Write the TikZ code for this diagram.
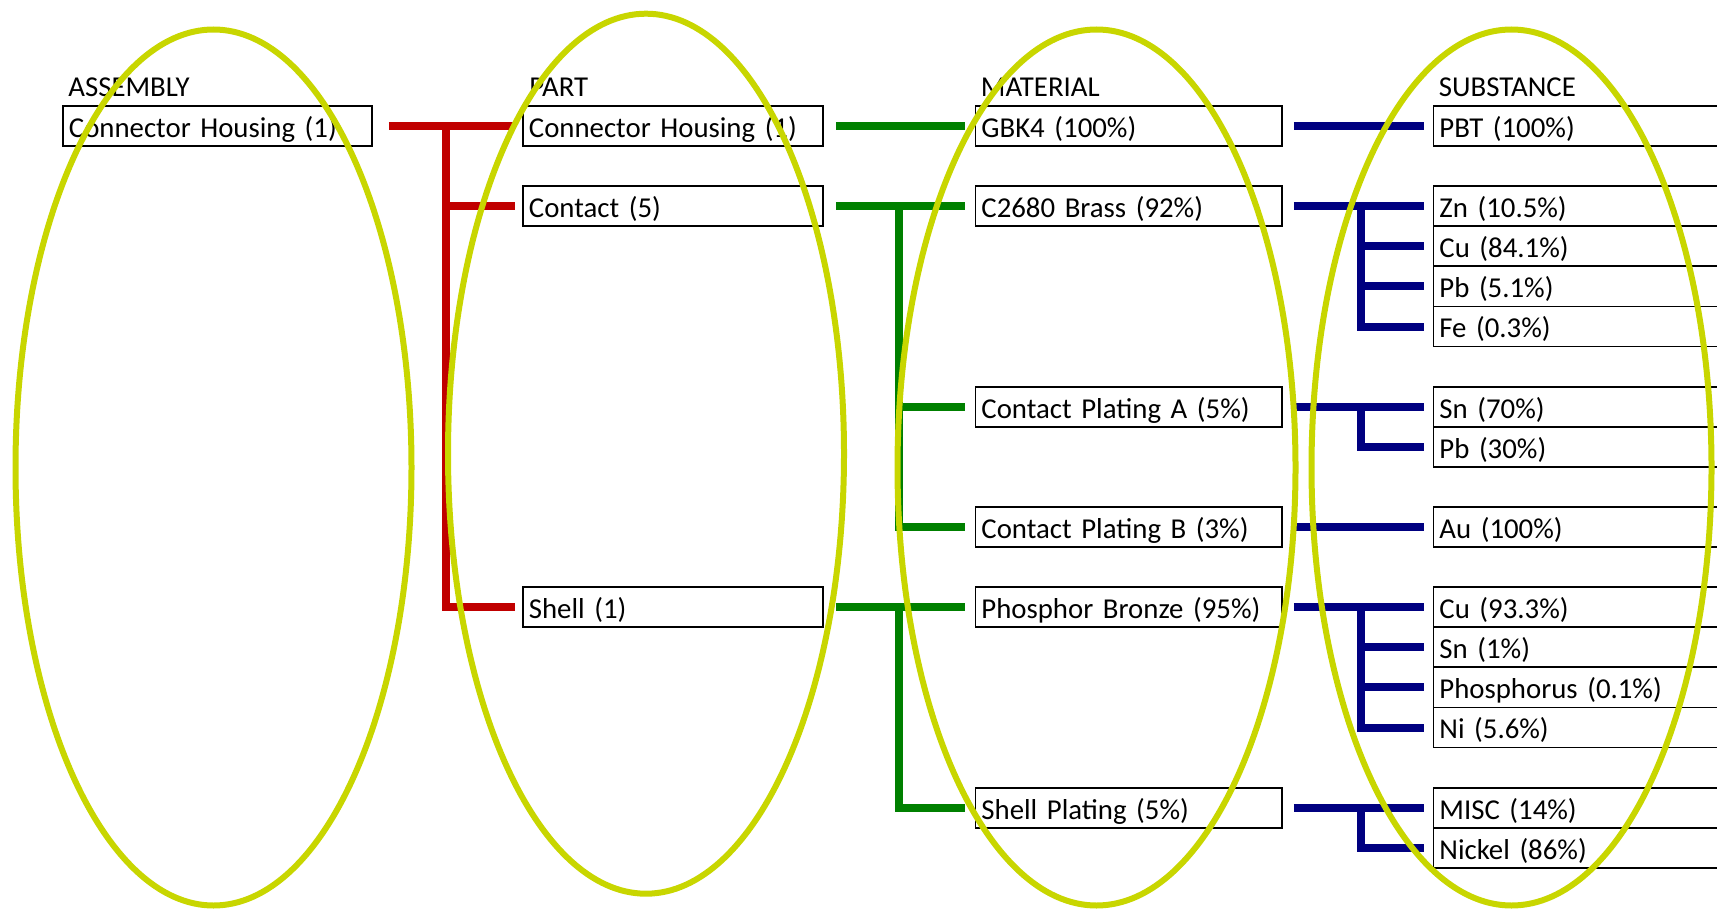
\documentclass[tikz,border=0pt]{standalone}
\usepackage{fontspec}
\setmainfont{Carlito}
\definecolor{myred}{RGB}{192,0,0}
\definecolor{mygreen}{RGB}{0,128,0}
\definecolor{myblue}{RGB}{0,0,128}
\definecolor{myyellow}{RGB}{200,214,0}

\begin{document}
\begin{tikzpicture}[x=0.5pt, y=-0.5pt, font=\fontsize{14.4}{17}\selectfont,
    box/.style={draw, line width=0.9pt, anchor=west, minimum height=20pt, inner xsep=3pt, inner ysep=0pt, text height=13pt, text depth=1.7pt, text width=#1, align=left},
    head/.style={anchor=base west, inner sep=0pt},
    redbar/.style={draw=myred, line width=4pt},
    grnbar/.style={draw=mygreen, line width=4pt},
    blubar/.style={draw=myblue, line width=4pt},
    ring/.style={draw=myyellow, line width=3pt}]

        \useasboundingbox (0,0) rectangle (1717,909);
        \clip (0,0) rectangle (1717,909);

        \node[head] (hA) at (68,97) {ASSEMBLY};
        \node[head] (hP) at (529,97) {PART};
        \node[head] (hM) at (980.5,97) {MATERIAL};
        \node[head] (hS) at (1438.5,97) {SUBSTANCE};

        \node[box=148.5pt] (A) at (62,126) {Connector Housing (1)};

        \node[box=144pt] (P1) at (522,126) {Connector Housing (1)};
        \node[box=144pt] (P2) at (522,206.2) {Contact (5)};
        \node[box=144pt] (P3) at (522,607.2) {Shell (1)};

        \node[box=147.25pt] (M1) at (974.5,126) {GBK4 (100\%)};
        \node[box=147.25pt] (M2) at (974.5,206.2) {C2680 Brass (92\%)};
        \node[box=147.25pt] (M3) at (974.5,406.7) {Contact Plating A (5\%)};
        \node[box=147.25pt] (M4) at (974.5,527) {Contact Plating B (3\%)};
        \node[box=147.25pt] (M5) at (974.5,607.2) {Phosphor Bronze (95\%)};
        \node[box=147.25pt] (M6) at (974.5,807.7) {Shell Plating (5\%)};

        \node[box=170pt] (S1) at (1432.5,126) {PBT (100\%)};
        \node[box=170pt] (S2) at (1432.5,206.2) {Zn (10.5\%)};
        \node[box=170pt] (S3) at (1432.5,246.3) {Cu (84.1\%)};
        \node[box=170pt] (S4) at (1432.5,286.4) {Pb (5.1\%)};
        \node[box=170pt] (S5) at (1432.5,326.5) {Fe (0.3\%)};
        \node[box=170pt] (S6) at (1432.5,406.7) {Sn (70\%)};
        \node[box=170pt] (S7) at (1432.5,446.8) {Pb (30\%)};
        \node[box=170pt] (S8) at (1432.5,527) {Au (100\%)};
        \node[box=170pt] (S9) at (1432.5,607.2) {Cu (93.3\%)};
        \node[box=170pt] (S10) at (1432.5,647.3) {Sn (1\%)};
        \node[box=170pt] (S11) at (1432.5,687.4) {Phosphorus (0.1\%)};
        \node[box=170pt] (S12) at (1432.5,727.5) {Ni (5.6\%)};
        \node[box=170pt] (S13) at (1432.5,807.7) {MISC (14\%)};
        \node[box=170pt] (S14) at (1432.5,847.8) {Nickel (86\%)};

        % assembly -> parts
        \draw[redbar] ([xshift=8pt]A.east) -- ([xshift=-3.5pt]P1.west);
        \draw[redbar] ([xshift=-38pt]P1.west) |- ([xshift=-3.5pt]P3.west);
        \draw[redbar] ([xshift=-38pt]P2.west) -- ([xshift=-3.5pt]P2.west);

        % parts -> materials
        \draw[grnbar] ([xshift=6pt]P1.east) -- ([xshift=-5pt]M1.west);
        \draw[grnbar] ([xshift=6pt]P2.east) -- ([xshift=-5pt]M2.west);
        \draw[grnbar] ([xshift=-38pt]M2.west) |- ([xshift=-5pt]M4.west);
        \draw[grnbar] ([xshift=-38pt]M3.west) -- ([xshift=-5pt]M3.west);
        \draw[grnbar] ([xshift=6pt]P3.east) -- ([xshift=-5pt]M5.west);
        \draw[grnbar] ([xshift=-38pt]M5.west) |- ([xshift=-5pt]M6.west);

        % materials -> substances
        \draw[blubar] ([xshift=5.5pt]M1.east) -- ([xshift=-4.5pt]S1.west);
        \draw[blubar] ([xshift=5.5pt]M2.east) -- ([xshift=-4.5pt]S2.west);
        \draw[blubar] ([xshift=-36pt]S2.west) |- ([xshift=-4.5pt]S5.west);
        \foreach \s in {S3,S4}
            \draw[blubar] ([xshift=-36pt]\s.west) -- ([xshift=-4.5pt]\s.west);
        \draw[blubar] ([xshift=5.5pt]M3.east) -- ([xshift=-4.5pt]S6.west);
        \draw[blubar] ([xshift=-36pt]S6.west) |- ([xshift=-4.5pt]S7.west);
        \draw[blubar] ([xshift=5.5pt]M4.east) -- ([xshift=-4.5pt]S8.west);
        \draw[blubar] ([xshift=5.5pt]M5.east) -- ([xshift=-4.5pt]S9.west);
        \draw[blubar] ([xshift=-36pt]S9.west) |- ([xshift=-4.5pt]S12.west);
        \foreach \s in {S10,S11}
            \draw[blubar] ([xshift=-36pt]\s.west) -- ([xshift=-4.5pt]\s.west);
        \draw[blubar] ([xshift=5.5pt]M6.east) -- ([xshift=-4.5pt]S13.west);
        \draw[blubar] ([xshift=-36pt]S13.west) |- ([xshift=-4.5pt]S14.west);

        % level rings
        \draw[ring] (213.5,467.5) ellipse [x radius=99pt, y radius=219pt];
        \draw[ring] (646,453.7) ellipse [x radius=99pt, y radius=220pt];
        \draw[ring] (1096.5,467.5) ellipse [x radius=99.5pt, y radius=219pt];
        \draw[ring] (1511.5,467.5) ellipse [x radius=100pt, y radius=219pt];
        \end{tikzpicture}
\end{document}
